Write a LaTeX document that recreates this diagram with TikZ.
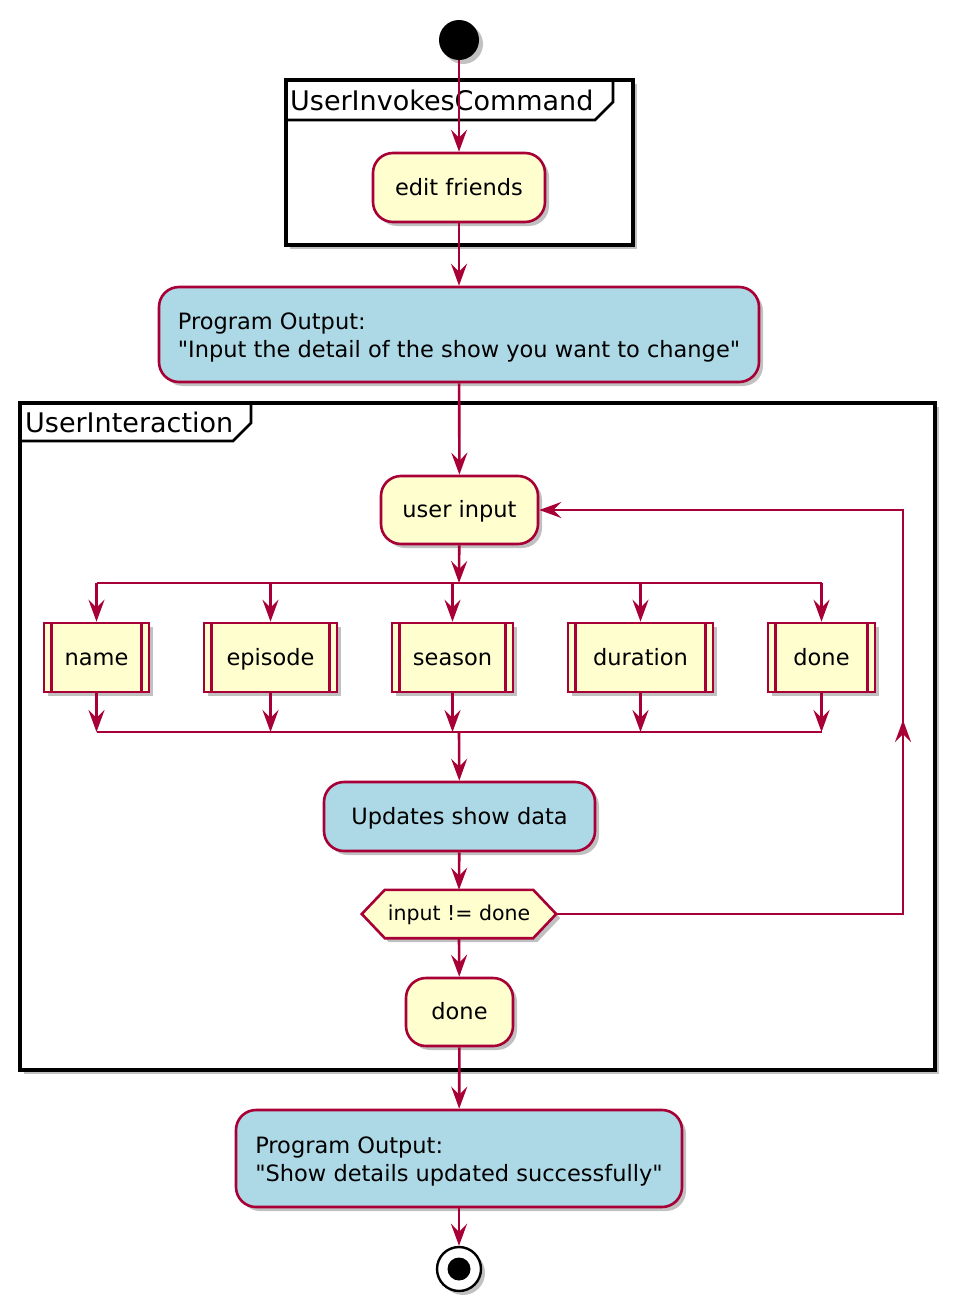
\documentclass[tikz,border=0pt]{standalone}
\usepackage{fontspec}
\setmainfont{DejaVu Sans}
\usetikzlibrary{arrows.meta,shadows}
\definecolor{plred}{HTML}{A80036}
\definecolor{plyel}{HTML}{FEFECE}
\definecolor{plblue}{HTML}{ADD8E6}
\tikzset{
  shad/.style={drop shadow={shadow xshift=4pt,shadow yshift=-4pt,opacity=0.35,fill=black!70}},
  bodyfont/.style={font=\fontsize{22.5}{28}\selectfont},
  act/.style={draw=plred,line width=2.6pt,fill=plyel,rounded corners=20pt,inner sep=0pt,bodyfont,shad},
  oneline/.style={text height=18pt,text depth=3pt},
  outp/.style={act,fill=plblue,align=left},
  subp/.style={draw=plred,line width=2.6pt,fill=plyel,inner sep=0pt,bodyfont,shad,minimum height=69pt,oneline},
  frm/.style={draw=black,line width=3.4pt,fill=white,inner sep=0pt,shad},
  tabline/.style={draw=black,line width=2.6pt},
  frlabel/.style={anchor=west,inner sep=0pt,font=\fontsize{27}{30}\selectfont},
  line/.style={draw=plred,line width=2.6pt},
  arr/.style={line,-{Stealth[length=22pt,width=16pt,inset=8pt]}},
  inner/.style={draw=plred,line width=2.6pt},
}
\begin{document}
\begin{tikzpicture}[x=1pt,y=-1pt]
\useasboundingbox (0,0) rectangle (954,1311);
% frames
\node[frm,minimum width=347pt,minimum height=165pt] (f1) at (459.5,162.5) {};
\draw[tabline] (286,120) -- (595,120) -- (613,102) -- (613,80);
\node[frlabel] (l1) at (290,100) {UserInvokesCommand};
\node[frm,minimum width=915pt,minimum height=667pt] (f2) at (477.5,736.5) {};
\draw[tabline] (20,441) -- (233,441) -- (251,423) -- (251,403);
\node[frlabel] (l2) at (25,422) {UserInteraction};
% nodes
\node[circle,fill=black,minimum size=40pt,inner sep=0pt,shad] (start) at (459,40) {};
\node[act,oneline,minimum width=172pt,minimum height=69pt] (edit) at (459,187.5) {edit friends};
\node[outp,minimum width=600pt,minimum height=95pt] (po1) at (459,334.5) {\rule{0pt}{23pt}Program Output:\\\textquotedbl Input the detail of the show you want to change\textquotedbl};
\node[act,oneline,minimum width=157pt,minimum height=68pt] (ui) at (459.5,510) {user input};
\node[subp,minimum width=105pt] (s1) at (96.5,657.5) {name};
\node[subp,minimum width=133pt] (s2) at (270.5,657.5) {episode};
\node[subp,minimum width=121pt] (s3) at (452.5,657.5) {season};
\node[subp,minimum width=145pt] (s4) at (640.5,657.5) {duration};
\node[subp,minimum width=107pt] (s5) at (821.5,657.5) {done};
\foreach \n in {s1,s2,s3,s4,s5}{
  \draw[inner] ([xshift=9pt]\n.north west) -- ([xshift=9pt]\n.south west);
  \draw[inner] ([xshift=-9pt]\n.north east) -- ([xshift=-9pt]\n.south east);
}
\node[act,oneline,fill=plblue,minimum width=271pt,minimum height=69pt] (upd) at (459.5,816.5) {Updates show data};
\node[inner sep=0pt,minimum width=194pt,minimum height=48pt] (hex) at (459,914) {};
\path[line,fill=plyel,shad] (hex.west) -- ([xshift=23pt]hex.north west) -- ([xshift=-23pt]hex.north east) -- (hex.east) -- ([xshift=-23pt]hex.south east) -- ([xshift=23pt]hex.south west) -- cycle;
\node[inner sep=0pt,font=\fontsize{20.5}{24}\selectfont,text height=15pt,text depth=3pt] (hext) at (459,914) {input != done};
\node[act,oneline,minimum width=107pt,minimum height=68pt] (dn) at (459.5,1012) {done};
\node[outp,minimum width=446pt,minimum height=97pt] (po2) at (459,1158.5) {\rule{0pt}{23pt}Program Output:\\\textquotedbl Show details updated successfully\textquotedbl};
\node[circle,draw=black,line width=2.4pt,fill=white,minimum size=44pt,inner sep=0pt,shad] (end) at (459,1269) {};
\fill[black] (end.center) circle (11.5pt);
% coordinates
\coordinate (fk) at (459,583);
\coordinate (fkl) at (96.5,583);
\coordinate (fkr) at (821.5,583);
\coordinate (jn) at (459,732);
\coordinate (jnl) at (96.5,732);
\coordinate (jnr) at (821.5,732);
\coordinate (lc) at (903,914);
\coordinate (lm) at (903,720);
% connectors
\draw[arr] (start) -- (edit);
\draw[arr] (edit) -- (po1);
\draw[arr] (po1) -- (ui);
\draw[arr] (ui) -- (fk);
\draw[line] (fkl) -- (fkr);
\draw[line] (jnl) -- (jnr);
\foreach \n in {s1,s2,s3,s4,s5}{
  \draw[arr] (fk -| \n.north) -- (\n.north);
  \draw[arr] (\n.south) -- (jn -| \n.south);
}
\draw[arr] (jn) -- (upd);
\draw[arr] (upd) -- (hex.north);
\draw[line] (hex.east) -- (lc) -- (lm);
\draw[arr] (lc) -- (lm);
\draw[arr] (lm) |- (ui.east);
\draw[arr] (hex.south) -- (dn);
\draw[arr] (dn) -- (po2);
\draw[arr] (po2) -- (end);
\end{tikzpicture}
\end{document}
